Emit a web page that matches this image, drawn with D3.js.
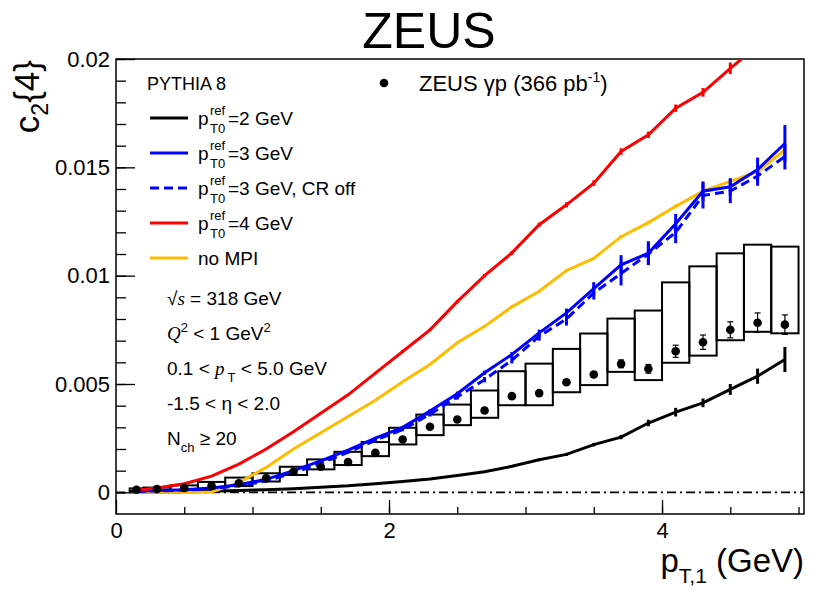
<!DOCTYPE html>
<html lang="en">
<head>
<meta charset="UTF-8">
<script src="https://d3js.org/d3.v7.min.js"></script>
<style>
  body { margin: 0; background: #fff; }
  svg text { font-family: "Liberation Sans", Arial, sans-serif; fill: #000; }
  .axis path { display: none; }
  .axis line { stroke: #000; stroke-width: 1.3; }
  .axis text { font-size: 22px; }
</style>
</head>
<body>
<svg width="830" height="599"></svg>
<script>
// bin centres and edges (GeV)
const ptC  = [0.15, 0.3, 0.5, 0.7, 0.9, 1.1, 1.3, 1.5, 1.7, 1.9, 2.1, 2.3, 2.5,
              2.7, 2.9, 3.1, 3.3, 3.5, 3.7, 3.9, 4.1, 4.3, 4.5, 4.7, 4.9];
const ptLo = [0.1, 0.2, 0.4, 0.6, 0.8, 1.0, 1.2, 1.4, 1.6, 1.8, 2.0, 2.2, 2.4,
              2.6, 2.8, 3.0, 3.2, 3.4, 3.6, 3.8, 4.0, 4.2, 4.4, 4.6, 4.8];
const ptHi = [0.2, 0.4, 0.6, 0.8, 1.0, 1.2, 1.4, 1.6, 1.8, 2.0, 2.2, 2.4, 2.6,
              2.8, 3.0, 3.2, 3.4, 3.6, 3.8, 4.0, 4.2, 4.4, 4.6, 4.8, 5.0];

// ZEUS data, values in units of 1e-3
const zeus     = [0.12, 0.15, 0.2, 0.3, 0.42, 0.65, 0.95, 1.18, 1.4, 1.82, 2.44, 3.03, 3.36,
                  3.78, 4.44, 4.58, 5.08, 5.44, 5.93, 5.7, 6.51, 6.93, 7.5, 7.83, 7.74];
const zeusStat = [0.02, 0.02, 0.02, 0.03, 0.03, 0.03, 0.04, 0.04, 0.05, 0.05, 0.06, 0.07, 0.07,
                  0.08, 0.08, 0.1, 0.1, 0.12, 0.18, 0.2, 0.28, 0.33, 0.37, 0.45, 0.45];
const sysLo    = [0.06, 0.08, 0.1, 0.15, 0.29, 0.5, 0.8, 1.06, 1.26, 1.67, 2.21, 2.64, 3.1,
                  3.44, 4.02, 4.02, 4.62, 4.95, 5.56, 5.18, 5.98, 6.31, 7.02, 7.41, 7.34];
const sysHi    = [0.18, 0.22, 0.32, 0.48, 0.68, 0.88, 1.18, 1.52, 1.87, 2.32, 2.98, 3.59, 4.05,
                  4.7, 5.59, 5.94, 6.62, 7.33, 8.02, 8.39, 9.69, 10.43, 11.03, 11.43, 11.34];

// PYTHIA 8 predictions, 1e-3
const pt0_2    = [0.01, 0.02, 0.03, 0.05, 0.08, 0.12, 0.17, 0.24, 0.3, 0.4, 0.5, 0.62, 0.78,
                  0.95, 1.2, 1.5, 1.75, 2.2, 2.55, 3.2, 3.7, 4.13, 4.75, 5.36, 6.13];
const pt0_2Err = [0, 0, 0, 0, 0, 0, 0, 0.01, 0.01, 0.02, 0.02, 0.03, 0.03,
                  0.04, 0.05, 0.06, 0.07, 0.08, 0.1, 0.15, 0.2, 0.2, 0.25, 0.35, 0.58];
const pt0_3    = [0.05, 0.08, 0.12, 0.2, 0.35, 0.6, 1.0, 1.45, 1.95, 2.5, 3.0, 3.75, 4.55,
                  5.52, 6.36, 7.36, 8.28, 9.4, 10.5, 11.04, 12.4, 13.9, 14.1, 14.9, 16.1];
const pt0_3Err = [0, 0, 0, 0, 0.01, 0.02, 0.03, 0.04, 0.05, 0.06, 0.07, 0.08, 0.1,
                  0.1, 0.12, 0.15, 0.2, 0.3, 0.45, 0.55, 0.45, 0.45, 0.4, 0.55, 0.85];
const pt0_3CR  = [0.04, 0.07, 0.1, 0.17, 0.3, 0.52, 0.9, 1.35, 1.85, 2.4, 2.9, 3.6, 4.4,
                  5.2, 6.1, 7.2, 8.0, 9.2, 10.1, 11.0, 12.0, 13.7, 13.9, 14.6, 15.5];
const pt0_3CRErr = [0, 0, 0, 0, 0.01, 0.02, 0.03, 0.04, 0.05, 0.06, 0.08, 0.1, 0.12,
                  0.12, 0.15, 0.2, 0.3, 0.3, 0.55, 0.5, 0.5, 0.6, 0.55, 0.45, 0.6];
const pt0_4    = [0.1, 0.2, 0.4, 0.75, 1.3, 2.0, 2.8, 3.65, 4.5, 5.5, 6.5, 7.5, 8.8,
                  10.0, 11.05, 12.35, 13.27, 14.27, 15.73, 16.5, 17.73, 18.46, 19.57, 20.6, 21.5];
const pt0_4Err = [0, 0, 0, 0.01, 0.01, 0.02, 0.03, 0.03, 0.04, 0.05, 0.05, 0.06, 0.07,
                  0.08, 0.09, 0.1, 0.12, 0.13, 0.15, 0.15, 0.17, 0.2, 0.27, 0.3, 0.3];
const noMPI    = [0, 0, 0, 0.02, 0.45, 1.15, 2.0, 2.75, 3.5, 4.25, 5.1, 5.9, 6.9,
                  7.66, 8.56, 9.28, 10.24, 10.8, 11.8, 12.45, 13.2, 13.9, 14.35, 14.8, 15.8];
const noMPIErr = [0, 0, 0, 0, 0.01, 0.01, 0.02, 0.02, 0.03, 0.03, 0.04, 0.04, 0.05,
                  0.05, 0.06, 0.06, 0.07, 0.07, 0.08, 0.08, 0.09, 0.1, 0.1, 0.12, 0.15];

const legendLabels = ["=2 GeV", "=3 GeV", "=3 GeV, CR off", "=4 GeV"];
const cuts = ["= 318 GeV", " < 1 GeV", "0.1 < ", "-1.5 < \u03b7 < 2.0", "N"];

const svg = d3.select("svg");
const x = d3.scaleLinear().domain([0, 5.04]).range([116, 804]);
const y = d3.scaleLinear().domain([-0.001, 0.02]).range([514, 59]);
const k = 1e-3;

svg.append("clipPath").attr("id", "frame")
  .append("rect").attr("x", 116).attr("y", 59).attr("width", 688).attr("height", 455);

// axes, ticks pointing inwards like ROOT
svg.append("g").attr("class", "axis").attr("transform", "translate(0,514)")
  .call(d3.axisBottom(x).tickValues(d3.range(0.5, 5.01, 0.5)).tickSize(-7).tickFormat(""));
svg.append("g").attr("class", "axis").attr("transform", "translate(0,514)")
  .call(d3.axisBottom(x).tickValues([0, 2, 4]).tickSize(-14).tickPadding(8).tickFormat(d3.format("d")));
svg.append("g").attr("class", "axis").attr("transform", "translate(116,0)")
  .call(d3.axisLeft(y).tickValues(d3.range(0, 0.0201, 0.001)).tickSize(-10).tickFormat(""));
svg.append("g").attr("class", "axis").attr("transform", "translate(116,0)")
  .call(d3.axisLeft(y).tickValues([0, 0.005, 0.01, 0.015, 0.02]).tickSize(-19).tickPadding(6)
    .tickFormat(d => d === 0 ? "0" : String(+d.toFixed(3))));

// frame
svg.append("rect").attr("x", 116).attr("y", 59).attr("width", 688).attr("height", 455)
  .attr("fill", "none").attr("stroke", "#000").attr("stroke-width", 1.5);

// zero line
svg.append("line").attr("x1", x(0)).attr("x2", 804).attr("y1", y(0)).attr("y2", y(0))
  .attr("stroke", "#000").attr("stroke-width", 1.6).attr("stroke-dasharray", "9,4,2,4");

const plot = svg.append("g").attr("clip-path", "url(#frame)");

// systematic boxes
plot.append("g").selectAll("rect").data(ptC).join("rect")
  .attr("x", (d, i) => x(ptLo[i]))
  .attr("width", (d, i) => x(ptHi[i]) - x(ptLo[i]))
  .attr("y", (d, i) => y(sysHi[i] * k))
  .attr("height", (d, i) => y(sysLo[i] * k) - y(sysHi[i] * k))
  .attr("fill", "none").attr("stroke", "#000").attr("stroke-width", 2);

// MC curves
const curves = [
  { v: pt0_2, e: pt0_2Err, c: "#000000", dash: null },
  { v: noMPI, e: noMPIErr, c: "#ffbb00", dash: null },
  { v: pt0_3CR, e: pt0_3CRErr, c: "#0000ff", dash: "9,5" },
  { v: pt0_3, e: pt0_3Err, c: "#0000ff", dash: null },
  { v: pt0_4, e: pt0_4Err, c: "#ff0000", dash: null }
];
const line = d3.line().x(d => x(d[0])).y(d => y(d[1] * k));
curves.forEach(cv => {
  const g = plot.append("g");
  g.append("path").datum(ptC.map((p, i) => [p, cv.v[i]]))
    .attr("d", line).attr("fill", "none").attr("stroke", cv.c)
    .attr("stroke-width", 3).attr("stroke-dasharray", cv.dash);
  g.selectAll("line").data(ptC).join("line")
    .attr("x1", d => x(d)).attr("x2", d => x(d))
    .attr("y1", (d, i) => y((cv.v[i] - cv.e[i]) * k))
    .attr("y2", (d, i) => y((cv.v[i] + cv.e[i]) * k))
    .attr("stroke", cv.c).attr("stroke-width", 3);
});

// ZEUS points
const pts = plot.append("g");
pts.selectAll("line.err").data(ptC).join("line").attr("class", "err")
  .attr("x1", d => x(d)).attr("x2", d => x(d))
  .attr("y1", (d, i) => y((zeus[i] - zeusStat[i]) * k))
  .attr("y2", (d, i) => y((zeus[i] + zeusStat[i]) * k))
  .attr("stroke", "#000").attr("stroke-width", 1.2);
pts.selectAll("line.cap").data(ptC.flatMap((d, i) => [[d, zeus[i] - zeusStat[i]], [d, zeus[i] + zeusStat[i]]]))
  .join("line").attr("class", "cap")
  .attr("x1", d => x(d[0]) - 3).attr("x2", d => x(d[0]) + 3)
  .attr("y1", d => y(d[1] * k)).attr("y2", d => y(d[1] * k))
  .attr("stroke", "#000").attr("stroke-width", 1.2);
pts.selectAll("circle").data(ptC).join("circle")
  .attr("cx", d => x(d)).attr("cy", (d, i) => y(zeus[i] * k)).attr("r", 4.3).attr("fill", "#000");

// title and axis labels
svg.append("text").attr("x", 429).attr("y", 48).attr("text-anchor", "middle")
  .style("font-size", "50px").text("ZEUS");

const yl = svg.append("text").attr("transform", "translate(39,60) rotate(-90)")
  .attr("text-anchor", "end").style("font-size", "35px");
yl.append("tspan").text("c");
yl.append("tspan").attr("dy", 9).style("font-size", "23px").text("2");
yl.append("tspan").attr("dy", -9).text("{4}");

const xl = svg.append("text").attr("x", 804).attr("y", 572).attr("text-anchor", "end")
  .style("font-size", "33px");
xl.append("tspan").text("p");
xl.append("tspan").attr("dy", 11).style("font-size", "21px").text("T,1");
xl.append("tspan").attr("dy", -11).text(" (GeV)");

// legend
svg.append("text").attr("x", 147).attr("y", 90).style("font-size", "18px").text("PYTHIA 8");

const legCurves = [
  { c: "#000000", dash: null, t: legendLabels[0] },
  { c: "#0000ff", dash: null, t: legendLabels[1] },
  { c: "#0000ff", dash: "9,5", t: legendLabels[2] },
  { c: "#ff0000", dash: null, t: legendLabels[3] }
];
const rowY = [118, 153, 188, 223, 258];
legCurves.forEach((d, i) => {
  const yy = rowY[i];
  svg.append("line").attr("x1", 150).attr("x2", 188).attr("y1", yy).attr("y2", yy)
    .attr("stroke", d.c).attr("stroke-width", 3).attr("stroke-dasharray", d.dash);
  svg.append("text").attr("x", 198).attr("y", yy + 7).style("font-size", "19px").text("p");
  svg.append("text").attr("x", 210).attr("y", yy - 3).style("font-size", "13px").text("ref");
  svg.append("text").attr("x", 210).attr("y", yy + 15).style("font-size", "13px").text("T0");
  svg.append("text").attr("x", 228).attr("y", yy + 7).style("font-size", "19px").text(d.t);
});
svg.append("line").attr("x1", 150).attr("x2", 188).attr("y1", rowY[4]).attr("y2", rowY[4])
  .attr("stroke", "#ffbb00").attr("stroke-width", 3);
svg.append("text").attr("x", 198).attr("y", rowY[4] + 7).style("font-size", "19px").text("no MPI");

svg.append("circle").attr("cx", 384).attr("cy", 83).attr("r", 4.3).attr("fill", "#000");
const zl = svg.append("text").attr("x", 419).attr("y", 91).style("font-size", "22px");
zl.append("tspan").text("ZEUS \u03b3p (366 pb");
zl.append("tspan").attr("dy", -9).style("font-size", "14px").text("-1");
zl.append("tspan").attr("dy", 9).text(")");

// kinematic cuts
const cutY = [305, 340, 375, 410, 445];
const c0 = svg.append("text").attr("x", 167).attr("y", cutY[0]).style("font-size", "19px");
c0.append("tspan").text("\u221a");
c0.append("tspan").style("font-family", "Liberation Serif, serif").style("font-style", "italic").text("s");
c0.append("tspan").text(" " + cuts[0]);

const c1 = svg.append("text").attr("x", 167).attr("y", cutY[1]).style("font-size", "19px");
c1.append("tspan").style("font-family", "Liberation Serif, serif").style("font-style", "italic").text("Q");
c1.append("tspan").attr("dy", -8).style("font-size", "13px").text("2");
c1.append("tspan").attr("dy", 8).text(cuts[1]);
c1.append("tspan").attr("dy", -8).style("font-size", "13px").text("2");

const c2 = svg.append("text").attr("x", 167).attr("y", cutY[2]).style("font-size", "19px");
c2.append("tspan").text(cuts[2]);
c2.append("tspan").style("font-family", "Liberation Serif, serif").style("font-style", "italic").text("p");
c2.append("tspan").attr("dy", 7).attr("dx", 3).style("font-size", "13px").text("T");
c2.append("tspan").attr("dy", -7).text(" < 5.0 GeV");

svg.append("text").attr("x", 167).attr("y", cutY[3]).style("font-size", "19px").text(cuts[3]);

const c4 = svg.append("text").attr("x", 167).attr("y", cutY[4]).style("font-size", "19px");
c4.append("tspan").text(cuts[4]);
c4.append("tspan").attr("dy", 7).style("font-size", "13px").text("ch");
c4.append("tspan").attr("dy", -7).text(" \u2265 20");
</script>
</body>
</html>
